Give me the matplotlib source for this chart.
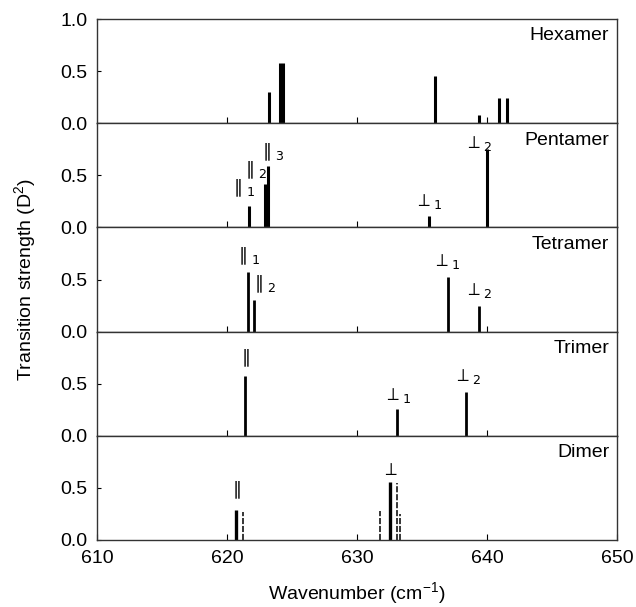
import matplotlib
matplotlib.use("Agg")
import matplotlib.pyplot as plt

plt.rcParams['font.family'] = ['Liberation Sans', 'DejaVu Sans']
plt.rcParams['mathtext.fontset'] = 'dejavusans'

panels = ["Hexamer", "Pentamer", "Tetramer", "Trimer", "Dimer"]

# solid sticks (wavenumber, strength)
hex_x = [623.2, 624.1, 624.3, 636.0, 639.4, 640.9, 641.5]
hex_y = [0.30, 0.58, 0.58, 0.45, 0.08, 0.24, 0.24]
pent_x = [621.7, 622.95, 623.15, 635.5, 640.0]
pent_y = [0.21, 0.42, 0.59, 0.11, 0.755]
tetr_x = [621.6, 622.1, 637.0, 639.4]
tetr_y = [0.57, 0.30, 0.52, 0.245]
trim_x = [621.4, 633.1, 638.4]
trim_y = [0.57, 0.26, 0.42]
dim_x = [620.7, 632.5]
dim_y = [0.29, 0.56]
# dashed sticks in dimer panel
dim_dash_x = [621.2, 631.8, 633.1, 633.3]
dim_dash_y = [0.27, 0.28, 0.55, 0.25]

# peak labels (text, x, y) per panel
pent_labels = [(r'$\parallel_1$', 621.2, 0.27), (r'$\parallel_2$', 622.1, 0.45),
               (r'$\parallel_3$', 623.4, 0.62), (r'$\perp_1$', 635.5, 0.16),
               (r'$\perp_2$', 639.3, 0.71)]
tetr_labels = [(r'$\parallel_1$', 621.6, 0.62), (r'$\parallel_2$', 622.8, 0.35),
               (r'$\perp_1$', 636.9, 0.58), (r'$\perp_2$', 639.3, 0.30)]
trim_labels = [(r'$\parallel$', 621.3, 0.64), (r'$\perp_1$', 633.1, 0.30),
               (r'$\perp_2$', 638.5, 0.48)]
dim_labels = [(r'$\parallel$', 620.6, 0.37), (r'$\perp$', 632.5, 0.59)]
hex_labels = []

xs = [hex_x, pent_x, tetr_x, trim_x, dim_x]
ys = [hex_y, pent_y, tetr_y, trim_y, dim_y]
widths = [2.2, 2.2, 2.0, 2.0, 2.4]
labels = [hex_labels, pent_labels, tetr_labels, trim_labels, dim_labels]

fig = plt.figure(figsize=(6.36, 6.07), dpi=100)
left, right, top, bottom = 97/636, 617/636, 1 - 19/607, 1 - 540/607
h = (top - bottom) / 5

for i, name in enumerate(panels):
    ax = fig.add_axes([left, top - (i + 1) * h, right - left, h])
    ax.vlines(xs[i], 0, ys[i], colors='black', linewidth=widths[i])
    if name == "Dimer":
        ax.vlines(dim_dash_x, 0, dim_dash_y, colors='black', linewidth=1.1,
                  linestyles=(0, (4, 1.2)))
    for t, lx, ly in labels[i]:
        ax.text(lx, ly, t, ha='center', va='bottom', fontsize=13, fontweight='bold')
    ax.text(0.985, 0.92, name, transform=ax.transAxes, ha='right', va='top', fontsize=14)
    ax.set_xlim(610, 650)
    ax.set_ylim(0, 1.0)
    if i == 0:
        ax.set_yticks([0.0, 0.5, 1.0])
        ax.set_yticklabels(['0.0', '0.5', '1.0'])
    else:
        ax.set_yticks([0.0, 0.5])
        ax.set_yticklabels(['0.0', '0.5'])
    ax.tick_params(axis='y', direction='in', length=3, labelsize=14, pad=7)
    if i == 4:
        ax.set_xticks([610, 620, 630, 640, 650])
        ax.tick_params(axis='x', direction='in', length=4, labelsize=14, pad=7)
        ax.set_xlabel(r'Wavenumber (cm$^{\mathregular{-1}}$)', fontsize=14, labelpad=10)
    else:
        ax.set_xticks([620, 630, 640])
        ax.tick_params(axis='x', direction='in', length=4, labelbottom=False)
    for s in ax.spines.values():
        s.set_linewidth(1.0)
        s.set_color('#333333')

fig.text(0.04, (top + bottom) / 2, r'Transition strength (D$^{\mathregular{2}}$)',
         rotation=90, ha='center', va='center', fontsize=14)

fig.savefig('out.png', dpi=100)
